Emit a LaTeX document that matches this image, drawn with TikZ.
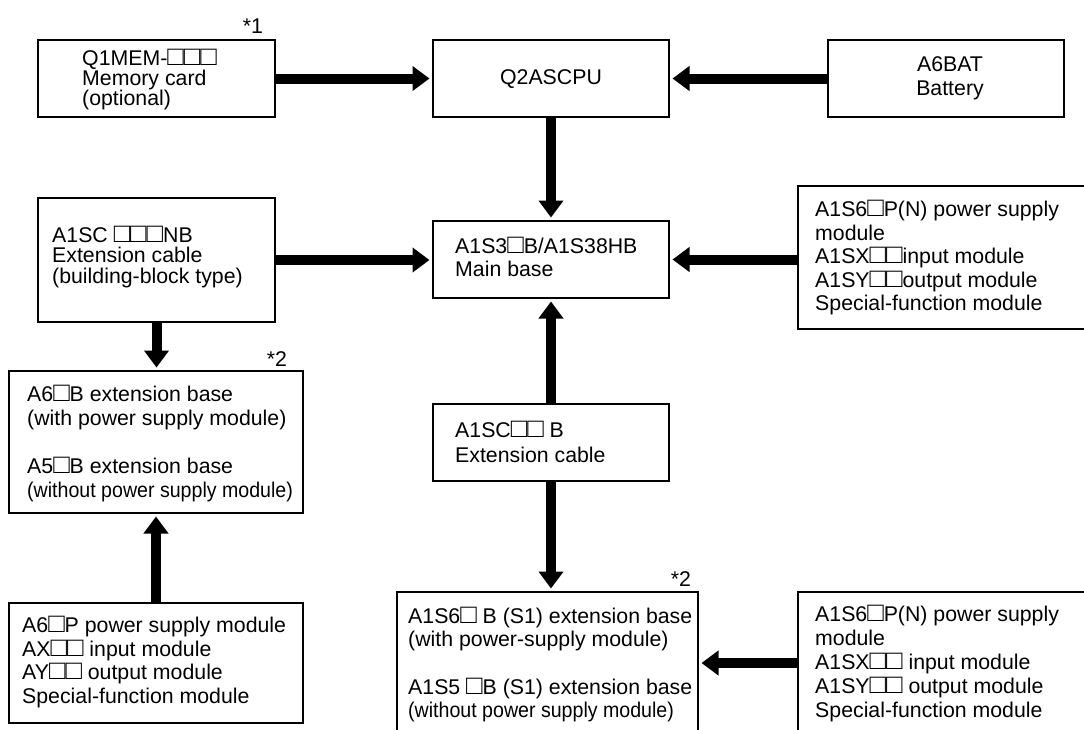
\documentclass[tikz,border=0pt]{standalone}
\usepackage{fontspec}
\usepackage{graphicx}
\setmainfont{Liberation Sans}
\newfontfamily\narrowfont[FakeStretch=0.92]{Liberation Sans}
\newcommand{\sq}{\smash{\scalebox{1.28}{□}}}
\usetikzlibrary{arrows.meta}
\begin{document}
\begin{tikzpicture}[x=1pt,y=-1pt,
  box/.style={draw=black, line width=2.2pt, rectangle, inner sep=0pt, outer sep=0pt, anchor=north west},
  txt/.style={inner sep=0pt, anchor=west, align=left},
  fnt/.style={font=\fontsize{21.3}{#1}\selectfont},
  bigarrow/.style={line width=10pt, -{Triangle[width=24pt,length=17pt]}, shorten >=3.5pt},
  note/.style={inner sep=0pt, font=\fontsize{21.3}{24}\selectfont}]
\clip (0,0) rectangle (1084,729);
\fill[white] (0,0) rectangle (1084,729);

% boxes
\node[box, minimum width=237pt, minimum height=77pt] (mem) at (38,40) {};
\node[box, minimum width=236pt, minimum height=77pt] (cpu) at (433,40) {};
\node[box, minimum width=236pt, minimum height=77pt] (bat) at (828,40) {};
\node[box, minimum width=237pt, minimum height=124pt] (nb) at (38,198) {};
\node[box, minimum width=236pt, minimum height=77pt] (main) at (433,221) {};
\node[box, minimum width=288pt, minimum height=143pt] (rt) at (798,186) {};
\node[box, minimum width=294pt, minimum height=142pt] (a6b) at (9,371) {};
\node[box, minimum width=236pt, minimum height=77pt] (cable) at (433,404) {};
\node[box, minimum width=294pt, minimum height=120pt] (bl) at (9,603) {};
\node[box, minimum width=301pt, minimum height=142pt] (ext) at (397,592) {};
\node[box, minimum width=288pt, minimum height=142pt] (br) at (798,592) {};

% texts
\node[txt, fnt=20] (memt) at (82,80) {Q1MEM-\sq\sq\sq\\Memory card\\(optional)};
\node[inner sep=0pt, fnt=24] (cput) at (551,79) {Q2ASCPU};
\node[inner sep=0pt, align=center, fnt=24] (batt) at (950,78) {A6BAT\\Battery};
\node[txt, fnt=20.5] (nbt) at (52,257.5) {A1SC \sq\sq\sq NB\\Extension cable\\(building-block type)};
\node[txt, fnt=23] (maint) at (455,257.5) {A1S3\sq B/A1S38HB\\Main base};
\node[txt, fnt=23.5] (rtt) at (815,258) {A1S6\sq P(N) power supply\\module\\A1SX\sq\sq input module\\A1SY\sq\sq output module\\Special-function module};
\node[txt, fnt=24] (a6bt) at (27,443.5) {A6\sq B extension base\\(with power supply module)\\[24pt]A5\sq B extension base\\{\narrowfont (without power supply module)}};
\node[txt, fnt=25] (cablet) at (455,442.5) {A1SC\sq\sq\ B\\Extension cable};
\node[txt, fnt=23.7] (blt) at (22,662.5) {A6\sq P power supply module\\AX\sq\sq\ input module\\AY\sq\sq\ output module\\Special-function module};
\node[txt, fnt=23.7] (extt) at (408,665) {A1S6\sq\ B (S1) extension base\\(with power-supply module)\\[23.7pt]A1S5 \sq B (S1) extension base\\{\narrowfont (without power supply module)}};
\node[txt, fnt=24] (brt) at (815,664) {A1S6\sq P(N) power supply\\module\\A1SX\sq\sq\ input module\\A1SY\sq\sq\ output module\\Special-function module};

% notes
\node[note] (n1) at (253,26) {*1};
\node[note] (n2) at (277,359) {*2};
\node[note] (n3) at (681,579) {*2};

% arrows
\draw[bigarrow] (mem) -- (cpu);
\draw[bigarrow] (bat) -- (cpu);
\draw[bigarrow] (cpu) -- (main);
\draw[bigarrow] (nb.east) -- (nb.east -| main.west);
\draw[bigarrow] (rt.west |- main.east) -- (main.east);
\draw[bigarrow] (cable) -- (main);
\draw[bigarrow] (cable.south) -- (cable.south |- ext.north);
\draw[bigarrow] (nb.south) -- (nb.south |- a6b.north);
\draw[bigarrow] (bl.north) -- (bl.north |- a6b.south);
\draw[bigarrow] (br) -- (ext);
\end{tikzpicture}
\end{document}
